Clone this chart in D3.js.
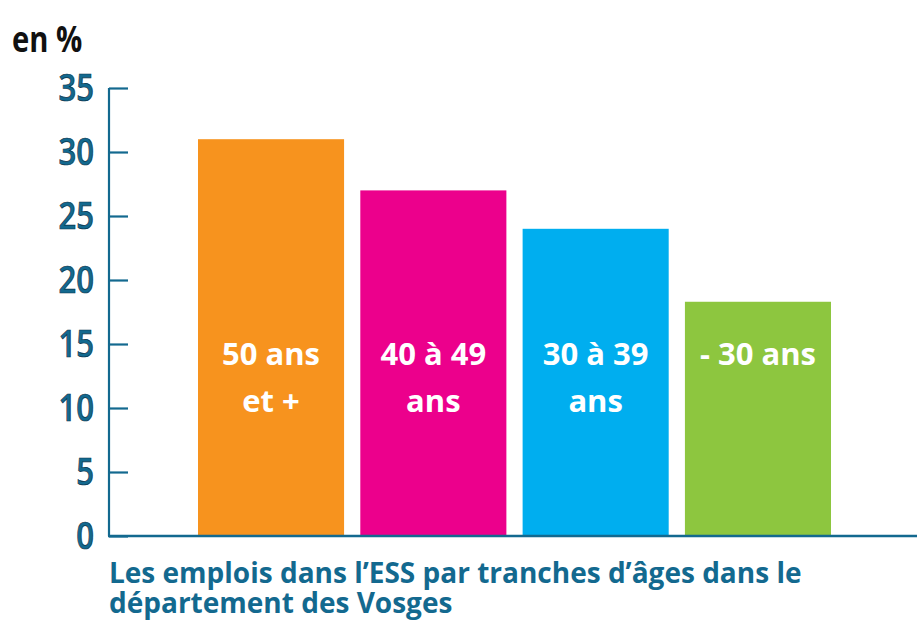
<!DOCTYPE html>
<html>
<head>
<meta charset="utf-8">
<script src="https://cdn.jsdelivr.net/npm/d3@7"></script>
<style>
  body { margin: 0; background: #fff; }
</style>
</head>
<body>
<div id="chart"></div>
<script>
"use strict";

// data
const categories = ["50 ans et +", "40 à 49 ans", "30 à 39 ans", "- 30 ans"];
const barLines = [["50 ans", "et +"], ["40 à 49", "ans"], ["30 à 39", "ans"], ["- 30 ans"]];
const values = [31, 27, 24, 18.3];
const colors = ["#F7931E", "#EC008C", "#00AEEF", "#8DC63F"];
const yTicks = [0, 5, 10, 15, 20, 25, 30, 35];
const unitLabel = "en %";
const caption = ["Les emplois dans l\u2019ESS par tranches d\u2019âges dans le", "département des Vosges"];

const W = 917, H = 628;
const axisColor = "#13698f";

const svg = d3.select("#chart").append("svg")
    .attr("width", W)
    .attr("height", H);

// scales
const x = d3.scaleBand()
    .domain(categories)
    .range([198, 831])
    .paddingInner(0.1)
    .paddingOuter(0);

const y = d3.scaleLinear()
    .domain([0, 35])
    .range([536, 88]);

// bars
svg.append("g")
    .selectAll("rect")
    .data(values)
    .join("rect")
    .attr("x", (d, i) => x(categories[i]))
    .attr("y", d => y(d))
    .attr("width", x.bandwidth())
    .attr("height", d => y(0) - y(d))
    .attr("fill", (d, i) => colors[i]);

// bar labels
const labels = svg.append("g")
    .selectAll("text")
    .data(barLines)
    .join("text")
    .attr("text-anchor", "middle")
    .attr("fill", "#fff")
    .style("font-family", "'Open Sans', sans-serif")
    .style("font-weight", "700")
    .style("font-size", "31px");

labels.selectAll("tspan")
    .data((d, i) => d.map(t => ({ t, i })))
    .join("tspan")
    .attr("x", d => x(categories[d.i]) + x.bandwidth() / 2)
    .attr("y", (d, j) => 365 + j * 47)
    .text(d => d.t);

// y axis
const yAxis = svg.append("g")
    .attr("transform", "translate(109,0)")
    .call(d3.axisRight(y).tickValues(yTicks).tickSize(19).tickFormat(""));

yAxis.select(".domain")
    .attr("d", `M0,${y(35)}V${y(0)}`)
    .attr("stroke", axisColor)
    .attr("stroke-width", 2.2);
yAxis.selectAll(".tick line")
    .attr("stroke", axisColor)
    .attr("stroke-width", 2.2);

// tick labels on the left side (condensed look)
svg.append("g")
    .selectAll("text")
    .data(yTicks)
    .join("text")
    .attr("transform", d => `translate(94,${y(d)}) scale(0.84,1)`)
    .attr("dy", "0.36em")
    .attr("text-anchor", "end")
    .attr("fill", axisColor)
    .attr("stroke", "#0a3147")
    .attr("stroke-width", 0.7)
    .style("font-family", "'Open Sans', sans-serif")
    .style("font-weight", "600")
    .style("font-size", "37px")
    .text(d => d);

// baseline
svg.append("line")
    .attr("x1", 108)
    .attr("x2", W)
    .attr("y1", y(0))
    .attr("y2", y(0))
    .attr("stroke", axisColor)
    .attr("stroke-width", 2.4);

// unit label
svg.append("text")
    .attr("transform", "translate(12,52) scale(0.81,1)")
    .attr("fill", "#111")
    .style("font-family", "'Open Sans', sans-serif")
    .style("font-weight", "700")
    .style("font-size", "36px")
    .text(unitLabel);

// caption, two separate lines
svg.append("g")
    .selectAll("text")
    .data(caption)
    .join("text")
    .attr("x", 109)
    .attr("y", (d, i) => 583 + i * 30)
    .attr("fill", axisColor)
    .style("font-family", "'Open Sans', sans-serif")
    .style("font-weight", "700")
    .style("font-size", "28px")
    .text(d => d);
</script>
</body>
</html>
